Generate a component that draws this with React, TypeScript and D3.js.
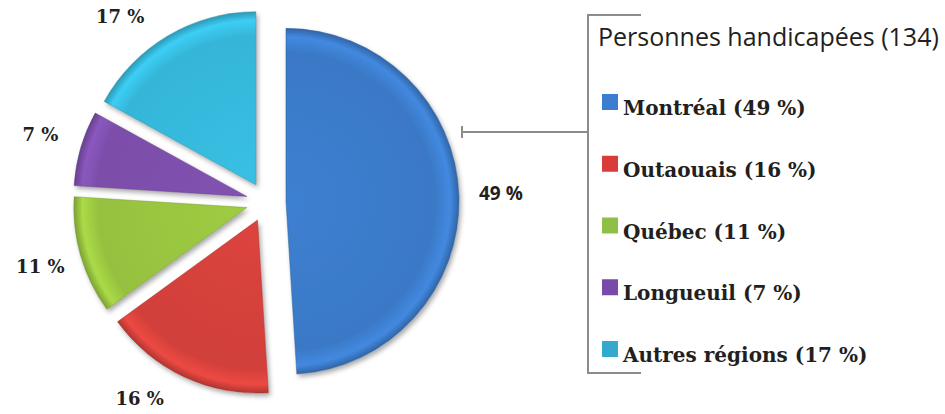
import React from 'react'
import * as d3 from 'd3'

// values
const regions = ['Montréal', 'Outaouais', 'Québec', 'Longueuil', 'Autres régions']
const shares = [49, 16, 11, 7, 17]
const sliceColors = ['#3a79c6', '#d1403a', '#96c13f', '#7b4ea9', '#35b6d8']
const keyColors = ['#3b7dd0', '#d83c3a', '#8fc045', '#7a4aaa', '#33a9cb']
const title = 'Personnes handicapées (134)'

const width = 945
const height = 414

export default function App() {
  const cx = 266
  const cy = 202
  const radius = 173
  const explode = 20
  const labelR = 215

  const pie = d3.pie<number>().sort(null).value(d => d)
  const slices = pie(shares)
  const arc = d3.arc<d3.PieArcDatum<number>>().innerRadius(0).outerRadius(radius)

  const legendY = d3.scalePoint<string>().domain(regions).range([102, 349])

  // exploded centre of each slice + label spot kept inside the picture
  const placed = slices.map(s => {
    const mid = (s.startAngle + s.endAngle) / 2
    const ox = cx + Math.sin(mid) * explode
    const oy = cy - Math.cos(mid) * explode
    let lx = ox + Math.sin(mid) * labelR
    let ly = oy - Math.cos(mid) * labelR
    const clamped = Math.max(18, Math.min(400, ly))
    if (clamped !== ly) {
      ly = clamped
      const dy = ly - oy
      lx = ox + Math.sign(Math.sin(mid)) * Math.sqrt(labelR * labelR - dy * dy)
    }
    return { s, ox, oy, lx, ly }
  })

  return (
    <svg width={width} height={height} style={{ position: 'absolute', left: 0, top: 0, background: '#fff' }}>
      <defs>
        <filter id="shadow" x="-20%" y="-20%" width="140%" height="140%">
          <feDropShadow dx="2" dy="3" stdDeviation="2.5" floodColor="#000" floodOpacity="0.35" />
        </filter>
        {sliceColors.map((c, i) => (
          <radialGradient key={i} id={'g' + i} gradientUnits="userSpaceOnUse" cx="0" cy="0" r={radius}>
            <stop offset="0" stopColor={d3.color(c)!.brighter(0.15).toString()} />
            <stop offset="0.86" stopColor={c} />
            <stop offset="0.95" stopColor={d3.color(c)!.brighter(0.35).toString()} />
            <stop offset="1" stopColor={d3.color(c)!.darker(0.5).toString()} />
          </radialGradient>
        ))}
      </defs>

      {placed.map(({ s, ox, oy }, i) => (
        <g key={i} transform={`translate(${ox},${oy})`}>
          <path d={arc(s)!} fill={`url(#g${i})`} filter="url(#shadow)" />
          <path d={arc(s)!} fill="none" stroke={d3.color(sliceColors[i])!.darker(0.6).toString()} strokeOpacity={0.5} strokeWidth={1} />
        </g>
      ))}

      {placed.map(({ lx, ly }, i) => (
        <text key={i} x={lx} y={ly} textAnchor="middle" dominantBaseline="middle"
          fontFamily={i === 0 ? '"Open Sans", "DejaVu Sans", sans-serif' : '"DejaVu Serif", serif'}
          fontWeight="bold" fontSize={i === 0 ? 19 : 18} fill="#231f20">
          {shares[i]} %
        </text>
      ))}

      {/* bracket */}
      <g stroke="#8c8c8c" strokeWidth={2} fill="none">
        <path d="M641,15 H588 V373 H641" />
        <path d="M588,132 H462" />
        <path d="M462,126 V138" />
      </g>

      <text x={598} y={46} fontFamily='"Open Sans", "Noto Sans", sans-serif' fontSize={25} fill="#231f20">
        {title}
      </text>

      {regions.map((r, i) => (
        <g key={r} transform={`translate(602,${legendY(r)})`}>
          <rect x={0} y={-8} width={16} height={16} fill={keyColors[i]} />
          <text x={21} y={13} fontFamily='"DejaVu Serif", serif' fontWeight="bold" fontSize={20} fill="#231f20">
            {r} ({shares[i]} %)
          </text>
        </g>
      ))}
    </svg>
  )
}
